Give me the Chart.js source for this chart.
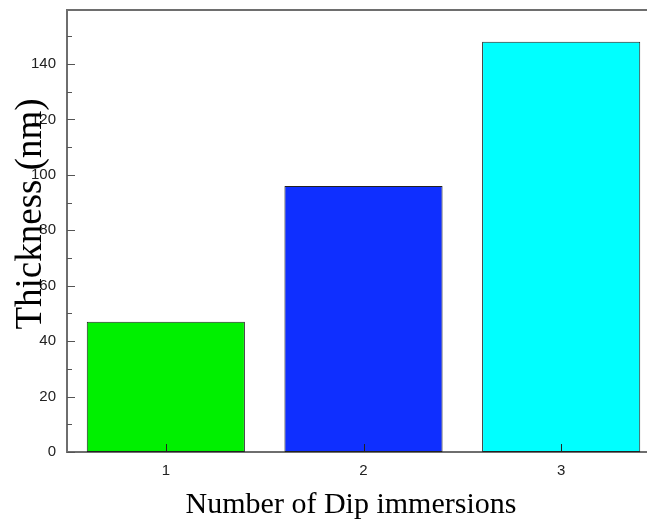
<!DOCTYPE html>
<html>
<head>
<meta charset="utf-8">
<script src="https://cdn.jsdelivr.net/npm/chart.js@4.4.1/dist/chart.umd.min.js"></script>
<style>
  html, body { margin: 0; padding: 0; background: #fff; overflow: hidden; width: 647px; height: 524px; }
  canvas { display: block; }
</style>
</head>
<body>
<canvas id="c" width="700" height="524"></canvas>
<script>
// Film thickness after successive dip immersions
const categories = ['1', '2', '3'];
const thickness = [47, 96, 148];
const barColors = ['#00f000', '#0f2fff', '#00ffff'];
const yMajorTicks = [0, 20, 40, 60, 80, 100, 120, 140];
const yMinorTicks = [10, 30, 50, 70, 90, 110, 130, 150];
const xTitle = 'Number of Dip immersions';
const yTitle = 'Thickness (nm)';

const AXIS_COLOR = '#6e6e6e';

// Inward tick marks, frame and axis titles
const decorations = {
  id: 'decorations',
  afterDraw(chart) {
    const ctx = chart.ctx;
    const a = chart.chartArea;
    const xs = chart.scales.x, ys = chart.scales.y;
    ctx.save();
    // top frame line
    ctx.strokeStyle = AXIS_COLOR;
    ctx.lineWidth = 2;
    ctx.beginPath();
    ctx.moveTo(a.left - 1, a.top);
    ctx.lineTo(a.right, a.top);
    ctx.stroke();

    ctx.strokeStyle = '#555';
    ctx.lineWidth = 1;
    ctx.beginPath();
    yMajorTicks.forEach(v => {
      const y = Math.round(ys.getPixelForValue(v)) + 0.5;
      ctx.moveTo(a.left, y); ctx.lineTo(a.left + 8, y);
    });
    yMinorTicks.forEach(v => {
      const y = Math.round(ys.getPixelForValue(v)) + 0.5;
      ctx.moveTo(a.left, y); ctx.lineTo(a.left + 5, y);
    });
    ctx.stroke();

    ctx.strokeStyle = '#222';
    ctx.beginPath();
    categories.forEach((c, i) => {
      const x = Math.round(xs.getPixelForValue(i)) + 0.5;
      ctx.moveTo(x, a.bottom); ctx.lineTo(x, a.bottom - 8);
    });
    ctx.stroke();

    // axis titles
    ctx.fillStyle = '#000';
    ctx.font = '30px "Liberation Serif", "Times New Roman", serif';
    ctx.textAlign = 'center';
    ctx.textBaseline = 'alphabetic';
    ctx.fillText(xTitle, 351, 513);

    ctx.translate(41, 214);
    ctx.rotate(-Math.PI / 2);
    ctx.font = '37px "Liberation Serif", "Times New Roman", serif';
    ctx.fillText(yTitle, 0, 0);
    ctx.restore();
  }
};

new Chart(document.getElementById('c'), {
  type: 'bar',
  data: {
    labels: categories,
    datasets: [{
      data: thickness,
      backgroundColor: barColors,
      borderColor: '#222',
      borderWidth: 1,
      borderSkipped: false,
      categoryPercentage: 0.8,
      barPercentage: 1.0
    }]
  },
  options: {
    responsive: false,
    animation: false,
    devicePixelRatio: 1,
    layout: { padding: { top: 10, right: 40, left: 0, bottom: 0 } },
    plugins: { legend: { display: false }, tooltip: { enabled: false } },
    scales: {
      x: {
        offset: true,
        grid: { display: false, drawTicks: false },
        border: { display: true, color: AXIS_COLOR, width: 2 },
        ticks: { color: '#222', padding: 10, font: { family: '"Liberation Sans", Arial, sans-serif', size: 15 } },
        afterFit(s) { s.height = 72; s.paddingLeft = 0; s.paddingRight = 0; }
      },
      y: {
        min: 0,
        max: 159.5,
        grid: { display: false, drawTicks: false },
        border: { display: true, color: AXIS_COLOR, width: 2 },
        ticks: { color: '#222', padding: 11, font: { family: '"Liberation Sans", Arial, sans-serif', size: 15 } },
        afterBuildTicks(s) { s.ticks = yMajorTicks.map(v => ({ value: v })); },
        afterFit(s) { s.width = 67; s.paddingTop = 0; s.paddingBottom = 0; }
      }
    }
  },
  plugins: [decorations]
});
</script>
</body>
</html>
